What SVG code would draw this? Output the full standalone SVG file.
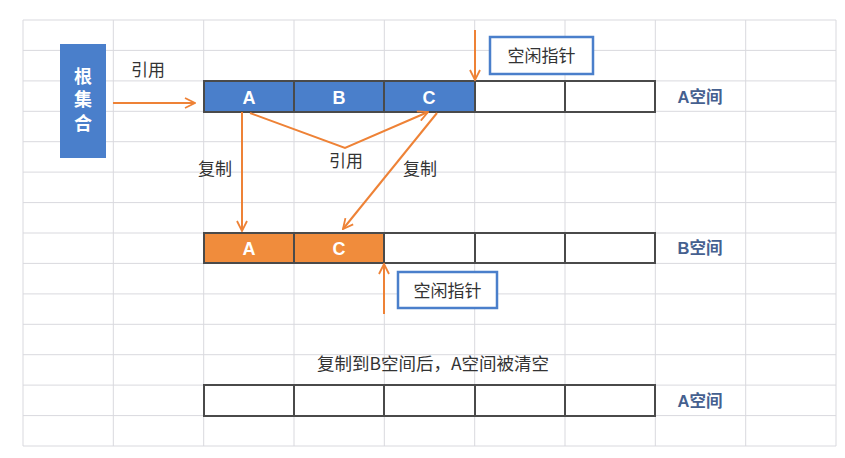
<svg xmlns="http://www.w3.org/2000/svg" width="845" height="458" viewBox="0 0 845 458">
<defs>
<style>
.grid{stroke:#d9d9de;stroke-width:1;fill:none}
.cell{stroke:#4a4a4a;stroke-width:2}
.blue{fill:#4a7fcb}
.orange{fill:#f08c3c}
.empty{fill:#ffffff}
.cl{font-family:"Liberation Sans","Noto Sans CJK SC",sans-serif;font-weight:bold;font-size:18px;fill:#ffffff;text-anchor:middle}
.rt{font-family:"Noto Sans CJK SC",sans-serif;font-weight:bold;font-size:18px;fill:#ffffff;text-anchor:middle}
.lbl{font-family:"Noto Sans CJK SC","Liberation Sans",sans-serif;font-size:17px;fill:#333333;text-anchor:middle}
.big{font-family:"Noto Sans CJK SC","Liberation Sans",sans-serif;font-size:17.5px;fill:#333333;text-anchor:middle}
.sp{font-family:"Liberation Sans","Noto Sans CJK SC",sans-serif;font-weight:bold;font-size:16.5px;fill:#45608f;text-anchor:middle}
.con{stroke:#ee8236;stroke-width:2;fill:none}
.ptr{fill:#ffffff;stroke:#4a7fcb;stroke-width:2.5}
</style>
<marker id="ah" viewBox="0 0 12 12" refX="11" refY="6" markerWidth="12" markerHeight="12" markerUnits="userSpaceOnUse" orient="auto">
<path d="M1,1 L11,6 L1,11" fill="none" stroke="#ee8236" stroke-width="1.8"/>
</marker>
</defs>
<rect width="845" height="458" fill="#ffffff"/>
<g id="grid" class="grid">
<path d="M23,20V446 M113.3,20V446 M203.7,20V446 M294,20V446 M384.3,20V446 M474.7,20V446 M565,20V446 M655.3,20V446 M745.7,20V446 M836,20V446"/>
<path d="M23,20H836 M23,50.4H836 M23,80.9H836 M23,111.3H836 M23,141.7H836 M23,172.1H836 M23,202.6H836 M23,233H836 M23,263.4H836 M23,293.9H836 M23,324.3H836 M23,354.7H836 M23,385.1H836 M23,415.6H836 M23,446H836"/>
</g>
<g id="root">
<rect x="60" y="44" width="46" height="114" class="blue"/>
<text class="rt" x="83" y="82.5">根</text>
<text class="rt" x="83" y="106">集</text>
<text class="rt" x="83" y="129.5">合</text>
</g>
<g id="spaceA">
<rect x="204" y="81" width="90" height="31" class="blue cell"/>
<rect x="294" y="81" width="90" height="31" class="blue cell"/>
<rect x="384" y="81" width="91" height="31" class="blue cell"/>
<rect x="475" y="81" width="90" height="31" class="empty cell"/>
<rect x="565" y="81" width="90" height="31" class="empty cell"/>
<text class="cl" x="249" y="103.5">A</text>
<text class="cl" x="339" y="103.5">B</text>
<text class="cl" x="429" y="103.5">C</text>
<text class="sp" x="700" y="103">A空间</text>
</g>
<g id="spaceB">
<rect x="204" y="233" width="90" height="30" class="orange cell"/>
<rect x="294" y="233" width="90" height="30" class="orange cell"/>
<rect x="384" y="233" width="91" height="30" class="empty cell"/>
<rect x="475" y="233" width="90" height="30" class="empty cell"/>
<rect x="565" y="233" width="90" height="30" class="empty cell"/>
<text class="cl" x="249" y="254.5">A</text>
<text class="cl" x="339" y="254.5">C</text>
<text class="sp" x="700" y="254">B空间</text>
</g>
<g id="spaceA2">
<rect x="204" y="385" width="90" height="31" class="empty cell"/>
<rect x="294" y="385" width="90" height="31" class="empty cell"/>
<rect x="384" y="385" width="91" height="31" class="empty cell"/>
<rect x="475" y="385" width="90" height="31" class="empty cell"/>
<rect x="565" y="385" width="90" height="31" class="empty cell"/>
<text class="sp" x="700" y="407">A空间</text>
</g>
<g id="ptr1">
<rect x="490" y="37" width="103" height="37" class="ptr"/>
<text class="lbl" x="541.5" y="62">空闲指针</text>
</g>
<g id="ptr2">
<rect x="398" y="272" width="99" height="36" class="ptr"/>
<text class="lbl" x="447.5" y="296.5">空闲指针</text>
</g>
<g id="connectors">
<line x1="113" y1="103" x2="195" y2="103" class="con" marker-end="url(#ah)"/>
<line x1="475" y1="30" x2="475" y2="80" class="con" marker-end="url(#ah)"/>
<line x1="242" y1="112" x2="242" y2="231" class="con" marker-end="url(#ah)"/>
<polyline points="250,113 345,148 428,112" class="con" marker-end="url(#ah)"/>
<line x1="437" y1="113" x2="343" y2="229" class="con" marker-end="url(#ah)"/>
<line x1="384" y1="314" x2="384" y2="264" class="con" marker-end="url(#ah)"/>
</g>
<g id="labels">
<text class="lbl" x="148" y="76">引用</text>
<text class="lbl" x="215" y="175">复制</text>
<text class="lbl" x="346" y="167">引用</text>
<text class="lbl" x="420" y="175">复制</text>
<text class="big" x="433" y="370">复制到B空间后，A空间被清空</text>
</g>
</svg>
